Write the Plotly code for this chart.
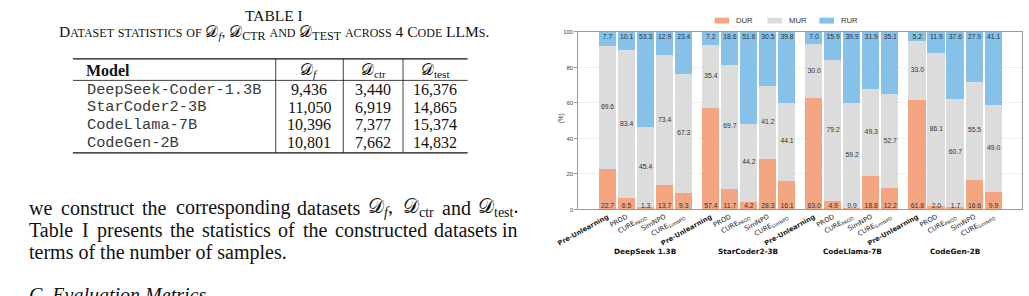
import plotly.graph_objects as go

W, H = 1029, 296

# ---------------- data ----------------
models = ["DeepSeek 1.3B", "StarCoder2-3B", "CodeLlama-7B", "CodeGen-2B"]
method_labels = ["<b>Pre-Unlearning</b>", "PROD", "CURE<sub>PROD</sub>", "SimNPO", "CURE<sub>SimNPO</sub>"]
series_names = ["DUR", "MUR", "RUR"]
dur = [[22.7, 6.5, 1.3, 13.7, 9.3],
       [57.4, 11.7, 4.2, 28.3, 16.1],
       [63.0, 4.9, 0.9, 18.8, 12.2],
       [61.8, 2.0, 1.7, 16.6, 9.9]]
mur = [[69.6, 83.4, 45.4, 73.4, 67.3],
       [35.4, 69.7, 44.2, 41.2, 44.1],
       [30.0, 79.2, 59.2, 49.3, 52.7],
       [33.0, 86.1, 60.7, 55.5, 49.0]]
rur = [[7.7, 10.1, 53.3, 12.9, 23.4],
       [7.2, 18.6, 51.6, 30.5, 39.8],
       [7.0, 15.9, 39.9, 31.9, 35.1],
       [5.2, 11.9, 37.6, 27.9, 41.1]]
y_ticks = [0, 20, 40, 60, 80, 100]

table_header = ["Model", "𝒟<sub><i>f</i></sub>", "𝒟<sub>ctr</sub>", "𝒟<sub>test</sub>"]
table_models = ["DeepSeek-Coder-1.3B", "StarCoder2-3B", "CodeLlama-7B", "CodeGen-2B"]
table_df = ["9,436", "11,050", "10,396", "10,801"]
table_dctr = ["3,440", "6,919", "7,377", "7,662"]
table_dtest = ["16,376", "14,865", "15,374", "14,832"]

colors = ["#F4A582", "#DCDCDC", "#85C1E9"]

# ---------------- helpers ----------------
def px(x):
    return x / W

def py(y):
    return 1 - y / H

def note(x, y, text, font, xanchor="center", yanchor="middle", **kw):
    d = dict(x=px(x), y=py(y), xref="paper", yref="paper", xanchor=xanchor, yanchor=yanchor,
             text=text, showarrow=False, font=font, borderpad=0)
    d.update(kw)
    return d

GROUP_STEP = 5.42
xs, ticks_txt, d_all, m_all, r_all = [], [], [], [], []
for g in range(len(models)):
    for j in range(len(method_labels)):
        xs.append(g * GROUP_STEP + j)
        ticks_txt.append(method_labels[j])
        d_all.append(dur[g][j])
        m_all.append(mur[g][j])
        r_all.append(rur[g][j])

fig = go.Figure()
for name, vals, col in zip(series_names, [d_all, m_all, r_all], colors):
    fig.add_trace(go.Bar(x=xs, y=vals, name=name, width=0.9, marker=dict(color=col, line=dict(width=0)),
                         showlegend=False, hoverinfo="skip"))

lab_font = dict(family="Liberation Sans, Arial, sans-serif", size=6.8, color="#333")
fig.add_trace(go.Scatter(x=xs, y=[1.8] * len(xs), mode="text", text=[f"{v:.1f}" for v in d_all],
                         textfont=lab_font, showlegend=False, hoverinfo="skip"))
fig.add_trace(go.Scatter(x=xs, y=[d + m / 2 for d, m in zip(d_all, m_all)], mode="text",
                         text=[f"{v:.1f}" for v in m_all], textfont=lab_font, showlegend=False, hoverinfo="skip"))
fig.add_trace(go.Scatter(x=xs, y=[97.0] * len(xs), mode="text", text=[f"{v:.1f}" for v in r_all],
                         textfont=lab_font, showlegend=False, hoverinfo="skip"))

x0_pix, x1_pix, ytop_pix, ybot_pix = 569, 1022, 29.5, 210.7
XR = [-1.53, xs[-1] + 1.5]
fig.update_layout(
    width=W, height=H, autosize=False,
    margin=dict(l=0, r=0, t=0, b=0),
    paper_bgcolor="white", plot_bgcolor="white",
    barmode="stack", bargap=0,
    xaxis=dict(domain=[px(x0_pix), px(x1_pix)], range=XR,
               tickvals=xs, ticktext=ticks_txt, tickangle=-29,
               tickfont=dict(family="DejaVu Sans, sans-serif", size=6.7, color="#222"),
               showline=True, mirror=True, linecolor="#999", linewidth=1,
               ticks="", ticklen=0, showgrid=False, zeroline=False, fixedrange=True),
    yaxis=dict(domain=[py(ybot_pix), py(ytop_pix)], range=[0, 100], tickvals=y_ticks,
               tickfont=dict(family="Liberation Sans, Arial, sans-serif", size=6, color="#444"),
               ticks="outside", ticklen=3, tickcolor="#999",
               showline=True, mirror=True, linecolor="#999", linewidth=1,
               showgrid=True, gridcolor="#F0F0F0", gridwidth=0.6, zeroline=False, fixedrange=True),
)

ann = []
shapes = []
# y-axis title
ann.append(note(551, 118, "(%)", dict(family="Liberation Sans, Arial, sans-serif", size=6.5, color="#333"),
                textangle=-90))
# group labels
for g, m in enumerate(models):
    cx = (g * GROUP_STEP + 2 - XR[0]) / (XR[1] - XR[0]) * (x1_pix - x0_pix) + x0_pix
    ann.append(note(cx, 253.5, f"<b>{m}</b>", dict(family="DejaVu Sans, sans-serif", size=7.3, color="#111")))
# manual legend
leg_x = [708, 762, 815]
for name, col, lx in zip(series_names, colors, leg_x):
    shapes.append(dict(type="rect", xref="paper", yref="paper", x0=px(lx), x1=px(lx + 15), y0=py(21), y1=py(15),
                       fillcolor=col, line=dict(width=0)))
    ann.append(note(lx + 21, 18, name, dict(family="Liberation Sans, Arial, sans-serif", size=7.7, color="#333"),
                    xanchor="left"))

# ---------------- left side: table ----------------
SERIF = "Liberation Serif, Times New Roman, DejaVu Serif, serif"
MONO = "Liberation Mono, Courier New, monospace"

def smallcaps(s, small):
    out = []
    for ch in s:
        if ch.islower():
            out.append(f"<span style='font-size:{small}px'>{ch.upper()}</span>")
        else:
            out.append(ch)
    return "".join(out)

ann.append(note(258, 13, "TABLE I", dict(family=SERIF, size=15.5, color="#111")))
cap = (smallcaps("Dataset statistics of ", 12) + "𝒟<sub><i>f</i></sub>, 𝒟<sub>" +
       smallcaps("ctr", 12) + "</sub> " + smallcaps("and ", 12) + "𝒟<sub>" +
       smallcaps("test", 12) + "</sub> " + smallcaps("across 4 Code LLMs.", 12))
ann.append(note(258, 31, cap, dict(family=SERIF, size=15.5, color="#111")))

tl, tr = 53, 456
top_r, head_r, bot_r = 57, 79, 153
vlines = [260, 329, 390]
for yy, lw in [(top_r, 1.3), (head_r, 0.8), (bot_r, 1.3)]:
    shapes.append(dict(type="line", xref="paper", yref="paper", x0=px(tl), x1=px(tr), y0=py(yy), y1=py(yy),
                       line=dict(color="#111", width=lw)))
for vx in vlines:
    shapes.append(dict(type="line", xref="paper", yref="paper", x0=px(vx), x1=px(vx), y0=py(top_r), y1=py(bot_r),
                       line=dict(color="#111", width=0.8)))
col_c = [294.5, 359.5, 423]
head_y = 68.5
ann.append(note(65, head_y, "<b>Model</b>", dict(family=SERIF, size=16, color="#111"), xanchor="left"))
for c, h in zip(col_c, table_header[1:]):
    ann.append(note(c, head_y, h, dict(family=SERIF, size=16, color="#111")))
row_y = [88.5, 106.5, 124.5, 142.5]
for i, ry in enumerate(row_y):
    ann.append(note(66, ry, table_models[i], dict(family=MONO, size=15.3, color="#3a3a3a"), xanchor="left"))
    for c, v in zip(col_c, [table_df[i], table_dctr[i], table_dtest[i]]):
        ann.append(note(c, ry, v, dict(family=SERIF, size=16, color="#111")))

# ---------------- left side: body text ----------------
TW = {'a': 444, 'b': 500, 'c': 444, 'd': 500, 'e': 444, 'f': 333, 'g': 500, 'h': 500, 'i': 278, 'j': 278,
      'k': 500, 'l': 278, 'm': 778, 'n': 500, 'o': 500, 'p': 500, 'q': 500, 'r': 333, 's': 389, 't': 278,
      'u': 500, 'v': 500, 'w': 722, 'x': 500, 'y': 500, 'z': 444, 'T': 611, 'I': 333, '.': 250, ',': 250}
BODY = 20

def width(tok):
    plain, sub = tok
    w = sum(TW.get(c, 500) for c in plain) / 1000 * BODY
    if sub is not None:
        w += 800 / 1000 * BODY + sum(TW.get(c, 500) for c in sub) / 1000 * BODY * 0.7
    return w

def justify_line(tokens, y, x_left=7, x_right=508):
    widths = [width(t[1]) for t in tokens]
    gap = (x_right - x_left - sum(widths)) / (len(tokens) - 1)
    x = x_left
    n = len(tokens)
    for k, ((html, _), w) in enumerate(zip(tokens, widths)):
        if k == n - 1:
            ann.append(note(x_right, y, html, dict(family=SERIF, size=BODY, color="#111"), xanchor="right"))
        else:
            ann.append(note(x, y, html, dict(family=SERIF, size=BODY, color="#111"), xanchor="left"))
        x += w + gap

def words(s):
    return [(w, (w, None)) for w in s.split()]

line1 = words("we construct the corresponding datasets") + [
    ("𝒟<sub><i>f</i></sub>,", (",", "f")), ("𝒟<sub>ctr</sub>", ("", "ctr")), ("and", ("and", None)),
    ("𝒟<sub>test</sub>.", (".", "test"))]
justify_line(line1, 209)
justify_line(words("Table I presents the statistics of the constructed datasets in"), 232)
ann.append(note(7, 255, "terms of the number of samples.", dict(family=SERIF, size=BODY, color="#111"),
                xanchor="left"))
ann.append(note(7, 298, "<i>C. Evaluation Metrics</i>", dict(family=SERIF, size=BODY, color="#111"),
                xanchor="left"))

fig.update_layout(annotations=ann, shapes=shapes)
fig.write_html("out.html", config={"displayModeBar": False})
